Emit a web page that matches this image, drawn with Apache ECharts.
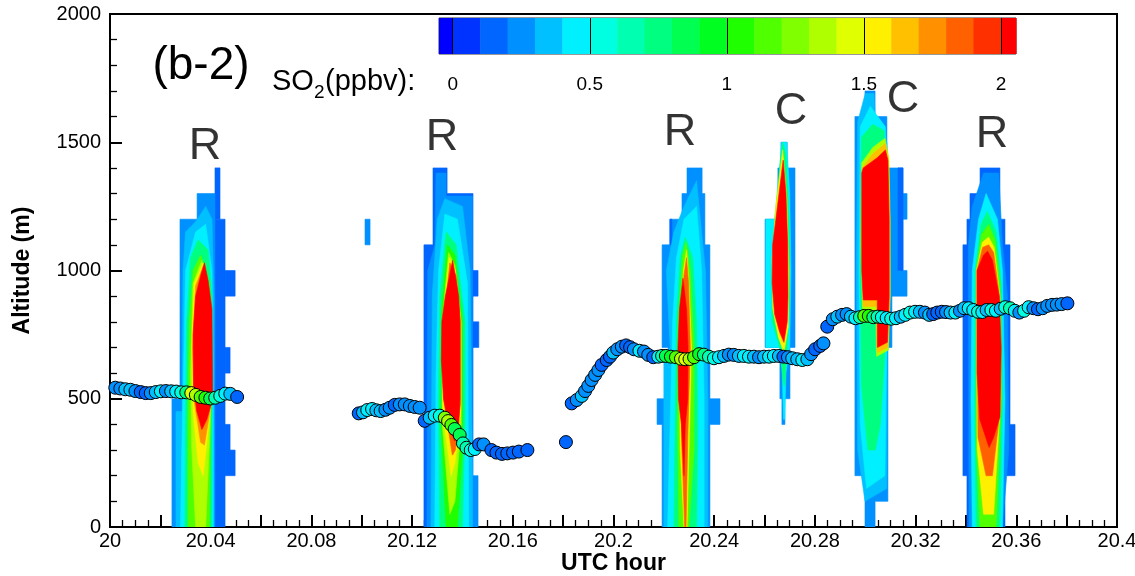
<!DOCTYPE html>
<html><head><meta charset="utf-8">
<script src="https://cdn.jsdelivr.net/npm/echarts@6/dist/echarts.min.js"></script>
<style>html,body{margin:0;padding:0;background:#fff}#c{width:1135px;height:576px}</style>
</head><body><div id="c"></div>
<script>
// ---- colour scale (SO2 ppbv) ----
const levelEdges = [-0.05,0,0.1,0.2,0.3,0.4,0.5,0.6,0.7,0.8,0.9,1.0,1.1,1.2,1.3,1.4,1.5,1.6,1.7,1.8,1.9,2.0,2.055];
const levelColors = ['#0000ff','#0033ff','#0066ff','#0090ff','#00c0ff','#00f0ff','#00ffe0','#00ffb0','#00ff80','#00ff50','#00ff20','#20ff00','#50ff00','#80ff00','#b0ff00','#e0ff00','#fff000','#ffc000','#ff9000','#ff6000','#ff3000','#ff0000'];
const colorbarTicks = [0,0.5,1,1.5,2];
const colorbarLabels = ['0','0.5','1','1.5','2'];

// ---- aircraft track: UTC hour, altitude (m), SO2 (ppbv) ----
const trackX = [
20.0021,20.0041,20.0061,20.0081,20.0101,20.0122,20.0142,20.0162,20.0182,20.0202,20.0222,20.0243,20.0263,20.0283,20.0303,20.0323,20.0341,20.0360,20.0379,20.0398,20.0418,20.0438,20.0458,20.0478,20.0505,
20.0988,20.1005,20.1022,20.1041,20.1058,20.1075,20.1094,20.1111,20.1131,20.1151,20.1171,20.1191,20.1210,20.1230,20.1250,20.1270,20.1290,20.1310,20.1330,20.1343,20.1356,20.1369,20.1389,20.1402,20.1416,20.1433,20.1449,20.1466,20.1484,20.1515,20.1535,20.1557,20.1578,20.1601,20.1624,20.1658,
20.1811,
20.1834,20.1854,20.1874,20.1887,20.1900,20.1913,20.1927,20.1940,20.1953,20.1973,20.1986,20.1999,20.2015,20.2033,20.2050,20.2066,20.2081,20.2103,20.2121,20.2138,20.2158,20.2178,20.2193,20.2208,20.2228,20.2248,20.2268,20.2285,20.2302,20.2320,20.2340,20.2359,20.2379,20.2399,20.2419,20.2439,20.2458,20.2478,20.2498,20.2518,20.2538,20.2558,20.2578,20.2598,20.2618,20.2637,20.2657,20.2675,20.2693,20.2710,20.2730,20.2750,20.2770,20.2785,20.2801,20.2821,20.2834,
20.2849,20.2871,20.2889,20.2908,20.2926,20.2943,20.2961,20.2979,20.2996,20.3014,20.3032,20.3049,20.3066,20.3085,20.3103,20.3122,20.3141,20.3159,20.3178,20.3198,20.3217,20.3237,20.3254,20.3270,20.3286,20.3304,20.3321,20.3339,20.3358,20.3376,20.3393,20.3411,20.3429,20.3448,20.3465,20.3482,20.3501,20.3519,20.3538,20.3556,20.3575,20.3594,20.3612,20.3631,20.3649,20.3668,20.3686,20.3705,20.3723,20.3742,20.3761,20.3780,20.3803];
const trackAlt = [
543,540,537,535,530,526,522,522,526,529,530,529,528,525,525,522,515,507,504,501,504,511,520,519,507,
443,447,456,460,455,452,457,465,476,478,478,472,468,465,414,426,434,434,426,413,398,382,359,326,309,300,304,322,322,300,290,285,287,290,294,300,
331,
482,495,511,530,550,573,593,612,632,651,664,680,693,703,708,701,693,687,684,671,662,664,667,667,664,662,656,654,655,662,674,672,664,658,662,667,672,671,667,667,664,664,662,664,664,667,667,664,662,658,654,651,654,674,693,706,716,
781,810,820,827,830,820,814,818,823,823,818,820,818,815,812,814,820,827,836,839,839,836,827,830,836,839,838,836,836,843,853,853,846,839,838,846,846,843,851,857,853,843,836,843,857,853,849,853,862,866,867,869,872];
const trackSO2 = [
0.25,0.25,0.35,0.3,0.25,0.15,0.15,0.25,0.35,0.4,0.25,0.35,0.45,0.55,0.75,1.45,1.3,1.15,1.05,0.85,0.65,0.55,0.45,0.35,0.15,
0.1,0.35,0.45,0.4,0.3,0.35,0.25,0.2,0.15,0.2,0.2,0.2,0.2,0.25,0.1,0.35,0.45,0.55,1.25,1.3,1.1,0.85,0.85,0.65,0.6,0.55,0.45,0.1,0.25,0.1,0.1,0.12,0.12,0.12,0.12,0.1,
0.15,
0.15,0.25,0.35,0.25,0.25,0.2,0.2,0.25,0.15,0.1,0.1,0.3,0.25,0.2,0.15,0.15,0.2,0.45,0.25,0.25,0.15,0.45,0.6,0.85,0.95,1.15,1.35,1.45,1.3,1.15,0.95,0.75,0.65,0.55,0.45,0.35,0.25,0.25,0.35,0.45,0.4,0.3,0.25,0.3,0.4,0.45,0.35,0.15,0.2,0.3,0.35,0.45,0.35,0.2,0.15,0.15,0.2,
0.1,0.2,0.3,0.2,0.25,0.35,0.45,0.6,1.15,1.05,0.75,0.6,0.55,0.45,0.55,0.45,0.35,0.45,0.55,0.45,0.35,0.25,0.35,0.1,0.1,0.15,0.25,0.35,0.45,0.25,0.35,0.45,0.45,0.55,0.45,0.35,0.55,0.45,0.35,0.55,0.6,0.45,0.25,0.55,0.45,0.25,0.15,0.2,0.25,0.2,0.25,0.2,0.1];

// ---- plume annotations ----
const annoX = [20.0377,20.1319,20.2264,20.2705,20.3150,20.3503];
const annoY = [1485,1518,1538,1618,1668,1530];
const annoText = ['R','R','R','C','C','R'];

// ---- contoured plume layers: [SO2 level, polygon in (UTC hour, altitude)] ----
const R = (v,x0,x1,y0,y1)=>[v,[[x0,y0],[x1,y0],[x1,y1],[x0,y1]]];
const plumeA = [
 R(0.15,20.0417,20.0437,1200,1400), R(0.15,20.0417,20.0457,0,1200), R(0.15,20.0457,20.0497,900,1000),
 R(0.15,20.0457,20.0477,600,700), R(0.15,20.0457,20.0477,300,400), R(0.15,20.0457,20.0497,200,300),
 [0.25,[[20.0246,0],[20.0246,500],[20.0278,500],[20.0278,1200],[20.0346,1200],[20.0346,1300],[20.0417,1300],[20.0417,0]]],
 [0.35,[[20.0262,0],[20.0262,450],[20.0286,450],[20.0290,1000],[20.0300,1150],[20.0340,1190],[20.0380,1250],[20.0405,1200],[20.0413,900],[20.0413,0]]],
 [0.45,[[20.0280,0],[20.0285,300],[20.0292,600],[20.0300,1000],[20.0340,1150],[20.0380,1180],[20.0405,1000],[20.0410,500],[20.0410,0]]],
 [0.75,[[20.0298,0],[20.0300,400],[20.0305,800],[20.0320,1050],[20.0350,1120],[20.0390,1080],[20.0405,900],[20.0405,0]]],
 [1.15,[[20.0310,0],[20.0310,400],[20.0315,800],[20.0330,1000],[20.0360,1060],[20.0395,950],[20.0400,500],[20.0395,0]]],
 [1.35,[[20.0340,0],[20.0325,300],[20.0320,600],[20.0330,950],[20.0365,1040],[20.0398,900],[20.0398,400],[20.0380,0]]],
 [1.55,[[20.0350,250],[20.0330,450],[20.0325,700],[20.0335,950],[20.0370,1030],[20.0398,850],[20.0398,450],[20.0370,200]]],
 [1.75,[[20.0360,330],[20.0333,500],[20.0328,700],[20.0340,940],[20.0372,1020],[20.0397,850],[20.0397,450],[20.0375,320]]],
 [2.1,[[20.0365,380],[20.0345,450],[20.0332,550],[20.0330,750],[20.0340,900],[20.0360,980],[20.0375,1030],[20.0390,960],[20.0405,850],[20.0408,500],[20.0385,420]]]
];
const plumeB = [
 R(0.25,20.1013,20.1033,1100,1200),
 [0.15,[[20.1247,0],[20.1247,1100],[20.1283,1100],[20.1283,1400],[20.1339,1400],[20.1339,1300],[20.1442,1300],[20.1442,0]]],
 R(0.15,20.1442,20.1462,900,1000), R(0.15,20.1442,20.1465,700,800), R(0.25,20.1442,20.1462,0,200),
 [0.25,[[20.1259,0],[20.1262,1000],[20.1291,1100],[20.1295,1380],[20.1335,1380],[20.1335,1290],[20.1440,1290],[20.1440,0]]],
 [0.35,[[20.1275,0],[20.1280,900],[20.1300,1200],[20.1330,1280],[20.1400,1250],[20.1430,1000],[20.1440,200],[20.1440,0]]],
 [0.45,[[20.1290,0],[20.1295,600],[20.1305,1000],[20.1330,1220],[20.1380,1200],[20.1420,950],[20.1425,0]]],
 [0.75,[[20.1310,0],[20.1305,500],[20.1310,900],[20.1335,1150],[20.1375,1100],[20.1410,800],[20.1410,400],[20.1400,0]]],
 [1.05,[[20.1335,0],[20.1315,400],[20.1318,850],[20.1340,1100],[20.1370,1060],[20.1400,800],[20.1400,300],[20.1380,0]]],
 [1.35,[[20.1350,50],[20.1320,400],[20.1320,800],[20.1345,1070],[20.1370,1020],[20.1395,800],[20.1395,400],[20.1370,100]]],
 [1.55,[[20.1355,200],[20.1322,450],[20.1322,800],[20.1348,1050],[20.1372,1000],[20.1393,800],[20.1393,450],[20.1370,250]]],
 [1.8,[[20.1360,280],[20.1325,500],[20.1325,800],[20.1350,1030],[20.1375,980],[20.1392,800],[20.1392,480],[20.1372,300]]],
 [2.1,[[20.1369,335],[20.1345,400],[20.1325,500],[20.1316,650],[20.1318,800],[20.1332,900],[20.1345,960],[20.1361,1040],[20.1375,960],[20.1385,900],[20.1390,800],[20.1390,500],[20.1385,400]]]
];
const plumeC = [
 [0.25,[[20.2193,0],[20.2193,400],[20.2173,400],[20.2173,500],[20.2217,500],[20.2217,700],[20.2193,700],[20.2193,1100],[20.2224,1100],[20.2224,1200],[20.2272,1200],[20.2272,1300],[20.2292,1300],[20.2292,1400],[20.2352,1400],[20.2352,1300],[20.2363,1300],[20.2363,1100],[20.2383,1100],[20.2383,500],[20.2423,500],[20.2423,400],[20.2383,400],[20.2383,0]]],
 R(0.1,20.2224,20.2232,1100,1200),
 [0.35,[[20.2200,0],[20.2200,650],[20.2225,700],[20.2210,1000],[20.2240,1150],[20.2280,1250],[20.2330,1350],[20.2345,1200],[20.2365,1000],[20.2375,500],[20.2375,0]]],
 [0.45,[[20.2215,0],[20.2225,400],[20.2235,800],[20.2250,1050],[20.2280,1200],[20.2330,1250],[20.2350,1000],[20.2360,500],[20.2360,0]]],
 [0.75,[[20.2240,0],[20.2245,400],[20.2250,800],[20.2265,1050],[20.2285,1130],[20.2315,1050],[20.2330,800],[20.2335,400],[20.2330,0]]],
 [1.15,[[20.2260,0],[20.2255,400],[20.2258,800],[20.2275,1060],[20.2288,1110],[20.2305,1000],[20.2320,700],[20.2320,300],[20.2300,0]]],
 [1.55,[[20.2280,0],[20.2265,300],[20.2262,700],[20.2278,1000],[20.2290,1080],[20.2300,950],[20.2310,700],[20.2300,300],[20.2292,0]]],
 [1.8,[[20.2283,0],[20.2270,350],[20.2265,700],[20.2280,980],[20.2290,1050],[20.2298,950],[20.2305,700],[20.2295,350],[20.2288,0]]],
 [2.1,[[20.2280,200],[20.2270,400],[20.2258,500],[20.2256,700],[20.2262,850],[20.2276,970],[20.2290,850],[20.2296,700],[20.2295,500],[20.2285,400]]]
];
const plumeD = [
 [0.25,[[20.2669,400],[20.2669,500],[20.2661,500],[20.2661,700],[20.2602,700],[20.2602,1200],[20.2653,1200],[20.2653,1400],[20.2665,1400],[20.2665,1500],[20.2690,1500],[20.2690,1400],[20.2721,1400],[20.2721,700],[20.2701,700],[20.2701,500],[20.2681,500],[20.2681,400]]],
 [0.45,[[20.2675,420],[20.2668,700],[20.2605,700],[20.2605,1200],[20.2656,1200],[20.2660,1400],[20.2668,1500],[20.2688,1500],[20.2700,1300],[20.2705,1000],[20.2700,700],[20.2685,600],[20.2680,420]]],
 [0.75,[[20.2676,550],[20.2660,700],[20.2630,800],[20.2628,1000],[20.2640,1200],[20.2665,1450],[20.2672,1500],[20.2685,1450],[20.2698,1200],[20.2700,900],[20.2690,700],[20.2680,550]]],
 [1.55,[[20.2677,680],[20.2655,740],[20.2633,850],[20.2630,1050],[20.2645,1250],[20.2672,1470],[20.2688,1280],[20.2697,1000],[20.2694,780]]],
 [2.1,[[20.2677,720],[20.2660,760],[20.2640,830],[20.2630,950],[20.2632,1100],[20.2645,1200],[20.2660,1320],[20.2674,1430],[20.2685,1300],[20.2692,1100],[20.2693,900],[20.2690,800]]]
];
const plumeE = [
 [0.25,[[20.2999,0],[20.2999,200],[20.2959,200],[20.2959,1600],[20.2999,1600],[20.2999,1700],[20.3039,1700],[20.3039,1600],[20.3086,1600],[20.3086,1400],[20.3150,1400],[20.3150,1300],[20.3166,1300],[20.3166,1200],[20.3150,1200],[20.3150,1000],[20.3166,1000],[20.3166,900],[20.3106,900],[20.3106,700],[20.3090,700],[20.3090,100],[20.3039,100],[20.3039,0]]],
 R(0.15,20.3130,20.3150,1000,1400),
 [0.35,[[20.2999,100],[20.2970,300],[20.2965,1000],[20.2970,1580],[20.3000,1690],[20.3035,1690],[20.3040,1580],[20.3086,1500],[20.3095,1300],[20.3100,900],[20.3088,700],[20.3085,150]]],
 [0.45,[[20.3005,150],[20.2980,400],[20.2975,1000],[20.2980,1560],[20.3020,1640],[20.3080,1560],[20.3090,1300],[20.3092,900],[20.3085,700],[20.3078,200]]],
 [0.75,[[20.3010,300],[20.2985,550],[20.2980,1000],[20.2985,1520],[20.3030,1570],[20.3075,1545],[20.3085,1300],[20.3088,900],[20.3080,700],[20.3060,400],[20.3040,300]]],
 [1.35,[[20.2990,840],[20.2983,1100],[20.2986,1420],[20.3030,1480],[20.3078,1515],[20.3094,1440],[20.3099,1200],[20.3099,900],[20.3092,690],[20.3045,665],[20.3042,840]]],
 [1.6,[[20.2992,860],[20.2985,1100],[20.2988,1400],[20.3030,1455],[20.3080,1495],[20.3092,1430],[20.3097,1200],[20.3097,900],[20.3090,700],[20.3048,680],[20.3045,860]]],
 [2.1,[[20.2992,885],[20.2986,1000],[20.2986,1380],[20.2992,1400],[20.3048,1440],[20.3080,1470],[20.3090,1430],[20.3095,1200],[20.3095,900],[20.3088,720],[20.3048,700],[20.3048,885]]]
];
const plumeF = [
 [0.15,[[20.3404,0],[20.3404,200],[20.3388,200],[20.3388,1100],[20.3404,1100],[20.3404,1200],[20.3416,1200],[20.3416,1300],[20.3456,1300],[20.3456,1400],[20.3535,1400],[20.3535,1200],[20.3555,1200],[20.3555,1100],[20.3575,1100],[20.3575,400],[20.3595,400],[20.3595,200],[20.3555,200],[20.3555,0]]],
 [0.25,[[20.3412,0],[20.3410,1100],[20.3425,1250],[20.3470,1380],[20.3530,1380],[20.3545,1100],[20.3565,900],[20.3570,300],[20.3545,0]]],
 [0.45,[[20.3425,0],[20.3420,500],[20.3425,1000],[20.3450,1200],[20.3480,1300],[20.3525,1200],[20.3545,1000],[20.3555,500],[20.3545,0]]],
 [0.75,[[20.3440,0],[20.3435,400],[20.3437,1000],[20.3460,1180],[20.3485,1230],[20.3520,1150],[20.3540,950],[20.3545,500],[20.3535,0]]],
 [1.15,[[20.3455,0],[20.3442,300],[20.3440,1000],[20.3462,1140],[20.3490,1180],[20.3515,1120],[20.3535,950],[20.3540,500],[20.3520,0]]],
 [1.55,[[20.3470,50],[20.3445,300],[20.3442,1000],[20.3465,1110],[20.3490,1130],[20.3512,1090],[20.3535,900],[20.3538,500],[20.3510,50]]],
 [1.8,[[20.3480,200],[20.3448,350],[20.3444,1000],[20.3466,1090],[20.3490,1100],[20.3510,1070],[20.3533,900],[20.3535,450],[20.3505,200]]],
 [2.1,[[20.3492,310],[20.3455,420],[20.3444,600],[20.3444,1000],[20.3470,1060],[20.3486,1075],[20.3505,1040],[20.3532,900],[20.3540,700],[20.3535,430],[20.3510,350]]]
];
const plumeLayers = [].concat(plumeA, plumeB, plumeC, plumeD, plumeE, plumeF);

function colorOf(v){
  for (let i = 0; i < levelColors.length; i++) if (v < levelEdges[i+1]) return levelColors[i];
  return levelColors[levelColors.length-1];
}
const FONT = "'Liberation Sans', Arial, Helvetica, sans-serif";

const chart = echarts.init(document.getElementById('c'), null, {renderer:'canvas'});
chart.setOption({
  animation:false,
  backgroundColor:'#fff',
  grid:[
    {left:110, right:18, top:14, bottom:49, show:true, borderColor:'#000', borderWidth:2, containLabel:false, outerBoundsMode:'none'},
    {left:439, width:577, top:18, height:36, show:true, borderColor:'#333', borderWidth:1, containLabel:false, outerBoundsMode:'none'}
  ],
  xAxis:[
    {type:'value', gridIndex:0, min:20, max:20.4, interval:0.02,
     name:'UTC hour', nameLocation:'middle', nameGap:25, nameMoveOverlap:false,
     nameTextStyle:{fontFamily:FONT, fontWeight:'bold', fontSize:23, color:'#000'},
     axisLine:{show:true, onZero:false, lineStyle:{color:'#000', width:2}},
     axisTick:{show:true, inside:true, length:12, lineStyle:{color:'#000', width:2}},
     minorTick:{show:true, splitNumber:4, length:7, lineStyle:{color:'#000', width:1.3}},
     splitLine:{show:false},
     axisLabel:{fontFamily:FONT, fontSize:20, color:'#000', margin:4,
       formatter:function(v){const k=Math.round((v-20)/0.02); if(k%2!==0) return ''; return String(+v.toFixed(2));}}},
    {type:'value', gridIndex:1, min:-0.05, max:2.055, z:10,
     axisLine:{show:false},
     axisTick:{show:true, inside:true, length:36, customValues:colorbarTicks, lineStyle:{color:'#000', width:1}},
     splitLine:{show:false},
     axisLabel:{show:true, customValues:colorbarTicks, fontFamily:FONT, fontSize:19, color:'#000', margin:21,
       formatter:function(v){const i = colorbarTicks.indexOf(v); return i >= 0 ? colorbarLabels[i] : '';}}}
  ],
  yAxis:[
    {type:'value', gridIndex:0, min:0, max:2000, interval:500,
     name:'Altitude (m)', nameLocation:'middle', nameGap:76, nameMoveOverlap:false,
     nameTextStyle:{fontFamily:FONT, fontWeight:'bold', fontSize:23, color:'#000'},
     axisLine:{show:true, onZero:false, lineStyle:{color:'#000', width:2}},
     axisTick:{show:true, inside:true, length:12, lineStyle:{color:'#000', width:2}},
     minorTick:{show:true, splitNumber:5, length:7, lineStyle:{color:'#000', width:1.3}},
     splitLine:{show:false},
     axisLabel:{fontFamily:FONT, fontSize:20, color:'#000', margin:9, formatter:function(v){return String(v);}}},
    {type:'value', gridIndex:1, min:0, max:1, show:false}
  ],
  graphic:[
    {type:'text', x:201, y:66, z:10, style:{text:'(b-2)', fontSize:46, fontFamily:FONT, fill:'#000', align:'center', verticalAlign:'middle'}},
    {type:'text', x:272, y:82, z:10, style:{text:'SO', fontSize:29, fontFamily:FONT, fill:'#000', align:'left', verticalAlign:'middle'}},
    {type:'text', x:314, y:93, z:10, style:{text:'2', fontSize:19, fontFamily:FONT, fill:'#000', align:'left', verticalAlign:'middle'}},
    {type:'text', x:325, y:82, z:10, style:{text:'(ppbv):', fontSize:29, fontFamily:FONT, fill:'#000', align:'left', verticalAlign:'middle'}}
  ],
  series:[
    {type:'custom', name:'plumes', xAxisIndex:0, yAxisIndex:0, clip:true, silent:true, z:2,
     data: plumeLayers.map((l,i)=>[l[1][0][0], l[1][0][1], i]),
     encode:{x:0, y:1},
     renderItem:function(params, api){
       const L = plumeLayers[params.dataIndex];
       const c = colorOf(L[0]);
       return {type:'polygon', shape:{points:L[1].map(p=>api.coord(p))}, style:{fill:c, stroke:c, lineWidth:0.6}};
     }},
    {type:'scatter', name:'SO2 track', xAxisIndex:0, yAxisIndex:0, z:5, symbol:'circle', symbolSize:13,
     data: trackX.map((x,i)=>[x, trackAlt[i], trackSO2[i]]),
     itemStyle:{color:function(p){return colorOf(p.value[2]);}, borderColor:'#000', borderWidth:1, opacity:1}},
    {type:'scatter', name:'labels', xAxisIndex:0, yAxisIndex:0, z:6, symbolSize:0, silent:true,
     data: annoX.map((x,i)=>({value:[x, annoY[i]], name:annoText[i]})),
     label:{show:true, position:'inside', formatter:'{b}', fontFamily:FONT, fontSize:45, color:'#000'}},
    {type:'custom', name:'colorbar', xAxisIndex:1, yAxisIndex:1, silent:true, z:3,
     data: levelColors.map((c,i)=>[levelEdges[i], levelEdges[i+1], i]),
     encode:{x:[0,1]},
     renderItem:function(params, api){
       const i = params.dataIndex;
       const p0 = api.coord([levelEdges[i], 1]);
       const p1 = api.coord([levelEdges[i+1], 0]);
       return {type:'rect', shape:{x:p0[0], y:p0[1], width:p1[0]-p0[0]+0.5, height:p1[1]-p0[1]}, style:{fill:levelColors[i]}};
     }}
  ]
});
</script>
</body></html>
